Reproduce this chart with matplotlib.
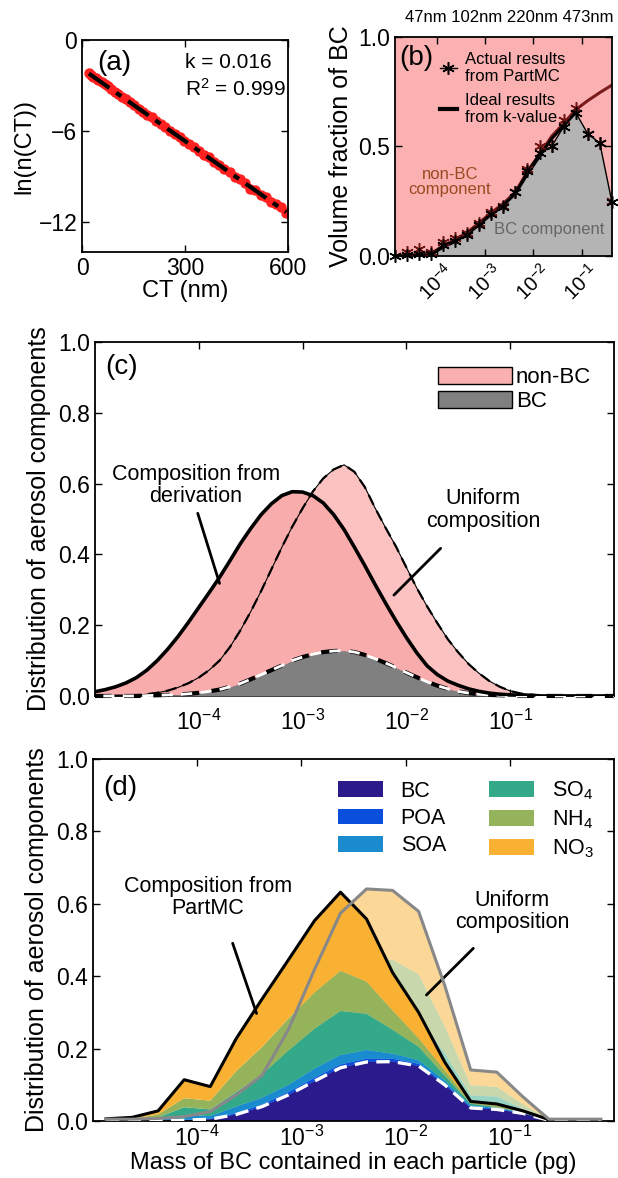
import numpy as np
import matplotlib
matplotlib.use('Agg')
import matplotlib.pyplot as plt
from matplotlib.patches import Patch
from matplotlib.lines import Line2D

plt.rcParams['font.family'] = ['Liberation Sans', 'DejaVu Sans']
plt.rcParams['mathtext.fontset'] = 'custom'
plt.rcParams['mathtext.rm'] = 'Liberation Sans'
plt.rcParams['mathtext.it'] = 'Liberation Sans:italic'
plt.rcParams['mathtext.bf'] = 'Liberation Sans:bold'

# ---------- (a) ln(n(CT)) vs CT ----------
ct = [20, 25, 32, 40, 48, 57, 66, 75, 84, 95, 105, 116, 128, 140, 152, 165, 178, 190,
      203, 216, 230, 243, 256, 270, 284, 298, 312, 326, 340, 355, 370, 385, 400, 415,
      430, 445, 460, 475, 490, 505, 520, 535, 550, 565, 580, 595]
ln_n = [-2.20, -2.28, -2.42, -2.52, -2.66, -2.80, -2.93, -3.05, -3.25, -3.40, -3.55, -3.75,
        -3.92, -4.12, -4.31, -4.55, -4.72, -4.95, -5.10, -5.35, -5.55, -5.75, -5.98, -6.22,
        -6.40, -6.66, -6.85, -7.08, -7.30, -7.56, -7.72, -8.05, -8.25, -8.50, -8.68, -9.05,
        -9.20, -9.45, -9.82, -9.90, -10.20, -10.35, -10.72, -10.85, -11.00, -11.40]

# ---------- (b) volume fraction of BC ----------
logm_b = [-4.875, -4.625, -4.375, -4.125, -3.875, -3.625, -3.375, -3.125, -2.875, -2.625,
          -2.375, -2.125, -1.875, -1.625, -1.375, -1.125, -0.875, -0.625, -0.375]
frac_partmc = [0.0, 0.004, 0.008, 0.008, 0.05, 0.07, 0.095, 0.14, 0.19, 0.225, 0.29, 0.39,
               0.47, 0.50, 0.59, 0.655, 0.558, 0.516, 0.248]
frac_partmc_red = [0.0, 0.018, 0.032, 0.02, 0.065, 0.08, 0.105, 0.15, 0.20, 0.228, 0.29, 0.395,
                   0.50, 0.50, 0.62, 0.675, 0.558, 0.516, 0.25]
frac_kvalue = [0.0, 0.003, 0.007, 0.012, 0.045, 0.074, 0.108, 0.152, 0.198, 0.240, 0.292, 0.385,
               0.463, 0.546, 0.605, 0.668, 0.709, 0.746, 0.780]
frac_ideal = [0.008, 0.040, 0.068, 0.100, 0.145, 0.190, 0.232, 0.285, 0.375, 0.455, 0.535, 0.595, 0.655]
sizes_top = '47nm 102nm 220nm 473nm'

# ---------- (c) derivation vs uniform ----------
logm_c = [-5.0, -4.9, -4.8, -4.7, -4.6, -4.5, -4.4, -4.3, -4.2, -4.1, -4.0, -3.9, -3.8, -3.7,
          -3.6, -3.5, -3.4, -3.3, -3.2, -3.1, -3.0, -2.9, -2.8, -2.7, -2.6, -2.5, -2.4, -2.3,
          -2.2, -2.1, -2.0, -1.9, -1.8, -1.7, -1.6, -1.5, -1.4, -1.3, -1.2, -1.1, -1.0, -0.9,
          -0.8, -0.7, -0.6, -0.5, -0.4, -0.3, -0.2, -0.1, 0.0]
dist_deriv = [0.012, 0.018, 0.026, 0.037, 0.052, 0.073, 0.100, 0.132, 0.168, 0.208, 0.250,
              0.292, 0.335, 0.382, 0.430, 0.473, 0.512, 0.543, 0.566, 0.577, 0.576, 0.566,
              0.545, 0.512, 0.470, 0.420, 0.368, 0.314, 0.262, 0.212, 0.165, 0.122, 0.085,
              0.060, 0.042, 0.030, 0.020, 0.013, 0.008, 0.005, 0.003, 0.002, 0.001, 0, 0, 0,
              0, 0, 0, 0, 0]
dist_uniform = [0.0, 0.0, 0.001, 0.001, 0.002, 0.005, 0.009, 0.015, 0.024, 0.036, 0.052, 0.073,
                0.100, 0.138, 0.185, 0.238, 0.296, 0.358, 0.420, 0.478, 0.530, 0.578, 0.615,
                0.640, 0.653, 0.633, 0.590, 0.530, 0.475, 0.422, 0.363, 0.305, 0.253, 0.205,
                0.160, 0.123, 0.090, 0.064, 0.042, 0.026, 0.014, 0.007, 0.004, 0.002, 0.001,
                0, 0, 0, 0, 0, 0]
dist_bc = [0.0, 0.0, 0.0, 0.0, 0.0, 0.001, 0.002, 0.003, 0.004, 0.006, 0.009, 0.013, 0.018,
           0.026, 0.035, 0.047, 0.060, 0.073, 0.086, 0.100, 0.110, 0.118, 0.124, 0.127, 0.128,
           0.124, 0.116, 0.105, 0.093, 0.080, 0.066, 0.053, 0.040, 0.029, 0.020, 0.013, 0.008,
           0.005, 0.003, 0.002, 0.001, 0, 0, 0, 0, 0, 0, 0, 0, 0, 0]

# ---------- (d) PartMC components ----------
logm_d = [-4.875, -4.625, -4.375, -4.125, -3.875, -3.625, -3.375, -3.125, -2.875, -2.625,
          -2.375, -2.125, -1.875, -1.625, -1.375, -1.125, -0.875, -0.625, -0.375, -0.125]
species = ['BC', 'POA', 'SOA', 'SO$_4$', 'NH$_4$', 'NO$_3$']
colors = ['#2a1a8c', '#0a4fdc', '#1a8bcf', '#33a98a', '#94b35a', '#f8b133']
bc = [0, 0, 0, 0.002, 0.005, 0.018, 0.040, 0.072, 0.110, 0.147, 0.163, 0.164, 0.152, 0.100,
      0.036, 0.032, 0.021, 0.002, 0, 0]
poa = [0, 0, 0, 0.001, 0.001, 0.004, 0.006, 0.008, 0.009, 0.009, 0.009, 0.008, 0.006, 0.004,
       0.002, 0.002, 0.001, 0, 0, 0]
soa = [0, 0.001, 0.004, 0.013, 0.008, 0.018, 0.019, 0.020, 0.026, 0.026, 0.024, 0.014, 0.010,
       0.008, 0.005, 0.002, 0.001, 0, 0, 0]
so4 = [0.002, 0.003, 0.006, 0.022, 0.018, 0.040, 0.065, 0.095, 0.110, 0.122, 0.100, 0.066,
       0.037, 0.013, 0.005, 0.002, 0.001, 0.001, 0, 0]
nh4 = [0.002, 0.002, 0.008, 0.025, 0.024, 0.058, 0.075, 0.088, 0.100, 0.111, 0.089, 0.053,
       0.023, 0.015, 0.002, 0.004, 0.002, 0.0, 0, 0]
no3 = [0.002, 0.004, 0.010, 0.051, 0.039, 0.090, 0.133, 0.162, 0.198, 0.217, 0.173, 0.105,
       0.072, 0.023, 0.004, 0.005, 0.002, 0.001, 0, 0]
uniform_total = [0.005, 0.005, 0.007, 0.012, 0.026, 0.072, 0.127, 0.252, 0.418, 0.574, 0.641,
                 0.637, 0.579, 0.375, 0.141, 0.135, 0.067, 0.005, 0.005, 0.005]
uniform_share = [0.27, 0.02, 0.05, 0.16, 0.20, 0.30]

fs_tick = 16.5


def style_axes(ax):
    ax.tick_params(direction='in', top=True, right=True, length=5, width=1,
                   labelsize=fs_tick, which='major')
    ax.tick_params(which='minor', length=0)
    for s in ax.spines.values():
        s.set_linewidth(1.3)


def pointer(ax, start, end):
    ax.annotate('', xy=end, xytext=start,
                arrowprops=dict(arrowstyle='-', color='black', lw=2, shrinkA=0, shrinkB=0))


fig = plt.figure(figsize=(6.18, 11.78), dpi=100)

# ---- (a)
ax_a = fig.add_axes([0.1327, 0.786, 0.3333, 0.180])
ax_a.plot(ct, ln_n, 'o', color='#ff2020', ms=6.5, zorder=2)
k, b = np.polyfit(ct, ln_n, 1)
xfit = np.array([min(ct), max(ct)])
ax_a.plot(xfit, k * xfit + b, color='black', lw=3, ls=(0, (6, 2, 1.5, 2)), zorder=3)
ax_a.set_xlim(0, 600)
ax_a.set_ylim(-14, 0)
ax_a.set_xticks([0, 300, 600])
ax_a.set_yticks([0, -6, -12])
ax_a.set_xlabel('CT (nm)', fontsize=17, labelpad=0)
ax_a.set_ylabel('ln(n(CT))', fontsize=17, labelpad=2)
ax_a.text(44, -1.5, '(a)', fontsize=20, va='center')
ax_a.text(300, -1.5, 'k = 0.016', fontsize=15, va='center')
ax_a.text(300, -3.2, 'R$^2$ = 0.999', fontsize=15, va='center')
style_axes(ax_a)

# ---- (b)
ax_b = fig.add_axes([0.639, 0.7827, 0.351, 0.1859])
ax_b.set_facecolor('#fbb1b1')
xb = 10 ** np.array(logm_b)
ax_b.fill_between(xb, 0, frac_partmc, color='#b4b4b4', lw=0, zorder=1)
ax_b.plot(xb, frac_kvalue, color='#7b1c1c', lw=2.2, zorder=2)
ax_b.plot(xb[3:16], frac_ideal, color='black', lw=2.2, zorder=3)
ax_b.plot(xb, frac_partmc_red, ls='none', marker=(6, 2, 0), ms=9, mew=1.1,
          color='#6e1414', zorder=4)
ax_b.plot(xb, frac_partmc, color='black', lw=1, marker=(6, 2, 0), ms=9, mew=1.1, zorder=5,
          clip_on=False)
ax_b.set_xscale('log')
ax_b.set_xlim(xb[0], xb[-1])
ax_b.set_ylim(0, 1)
ax_b.set_yticks([0, 0.5, 1.0])
ax_b.set_yticklabels(['0.0', '0.5', '1.0'])
ax_b.set_xticks([1e-4, 1e-3, 1e-2, 1e-1])
ax_b.set_xticklabels(['$10^{-4}$', '$10^{-3}$', '$10^{-2}$', '$10^{-1}$'],
                     rotation=45, ha='center')
ax_b.set_ylabel('Volume fraction of BC', fontsize=18, labelpad=4)
style_axes(ax_b)
ax_b.tick_params(axis='x', labelsize=14.5, pad=3)
ax_b.text(0.02, 0.904, '(b)', transform=ax_b.transAxes, fontsize=20, va='center')
h1 = Line2D([], [], color='black', lw=1, marker=(6, 2, 0), ms=9, mew=1.1)
h2 = Line2D([], [], color='black', lw=3)
ax_b.legend([h1, h2], ['Actual results\nfrom PartMC', 'Ideal results\nfrom k-value'],
            loc='upper left', bbox_to_anchor=(0.17, 0.97), frameon=False, fontsize=12,
            handlelength=1.0, handletextpad=0.5, labelspacing=0.5, borderpad=0)
ax_b.text(0.253, 0.338, 'non-BC\ncomponent', transform=ax_b.transAxes, fontsize=12,
          color='#9a4a22', ha='center', va='center', linespacing=1.05)
ax_b.text(0.71, 0.119, 'BC component', transform=ax_b.transAxes, fontsize=12,
          color='#666666', ha='center', va='center')
fig.text(509 / 618, 1 - 17 / 1178, sizes_top, fontsize=12, ha='center', va='center')

# ---- (c)
ax_c = fig.add_axes([0.1537, 0.4092, 0.8398, 0.3005])
xc = 10 ** np.array(logm_c)
ax_c.fill_between(xc, 0, dist_uniform, color='#fcc2c2', lw=0, zorder=1)
ax_c.fill_between(xc, 0, dist_deriv, color='#f9acac', lw=0, zorder=2)
ax_c.fill_between(xc, 0, dist_bc, color='#808080', lw=0, zorder=3)
ax_c.plot(xc, dist_uniform, color='black', lw=0.8, zorder=4)
ax_c.plot(xc, dist_uniform, color='black', lw=1.6, ls=(0, (5, 3)), zorder=4)
ax_c.plot(xc, dist_bc, color='black', lw=3, ls=(0, (4, 3)), zorder=5, clip_on=False)
ax_c.plot(xc, dist_bc, color='white', lw=2, ls=(4, (4, 3)), zorder=6, clip_on=False)
ax_c.plot(xc, dist_deriv, color='black', lw=2.6, zorder=7)
ax_c.set_xscale('log')
ax_c.set_xlim(1e-5, 1)
ax_c.set_ylim(0, 1)
ax_c.set_xticks([1e-4, 1e-3, 1e-2, 1e-1])
ax_c.set_yticks([0, 0.2, 0.4, 0.6, 0.8, 1.0])
ax_c.set_yticklabels(['0.0', '0.2', '0.4', '0.6', '0.8', '1.0'])
ax_c.set_ylabel('Distribution of aerosol components', fontsize=18, labelpad=5)
style_axes(ax_c)
ax_c.tick_params(axis='x', pad=10)
ax_c.text(0.02, 0.93, '(c)', transform=ax_c.transAxes, fontsize=20, va='center')
ax_c.legend([Patch(facecolor='#fbb0b0', edgecolor='black', lw=1),
             Patch(facecolor='#808080', edgecolor='black', lw=1)],
            ['non-BC', 'BC'], loc='upper left', bbox_to_anchor=(0.64, 0.962),
            frameon=False, fontsize=16, handlelength=3.3, handleheight=0.8,
            handletextpad=0.2, labelspacing=0.15, borderpad=0)
ax_c.text(10 ** -4.03, 0.595, 'Composition from\nderivation', fontsize=15.5,
          ha='center', va='center', linespacing=1.1)
pointer(ax_c, (10 ** -4.01, 0.516), (10 ** -3.80, 0.318))
ax_c.text(10 ** -1.26, 0.525, 'Uniform\ncomposition', fontsize=15.5,
          ha='center', va='center', linespacing=1.1)
pointer(ax_c, (10 ** -1.67, 0.417), (10 ** -2.12, 0.285))

# ---- (d)
ax_d = fig.add_axes([0.1505, 0.0484, 0.843, 0.3073])
xd = 10 ** np.array(logm_d)
layers = np.array([bc, poa, soa, so4, nh4, no3])
uniform_layers = np.outer(uniform_share, uniform_total)
ax_d.stackplot(xd, uniform_layers, colors=colors, alpha=0.5, lw=0, zorder=1)
ax_d.stackplot(xd, layers, colors=colors, lw=0, zorder=2)
total = layers.sum(axis=0)
ax_d.plot(xd, bc, color='white', lw=2.4, ls=(0, (4, 2.5)), zorder=3)
ax_d.plot(xd[:18], total[:18], color='black', lw=2.2, zorder=4)
ax_d.plot(xd, uniform_total, color='#888888', lw=2.2, zorder=5)
ax_d.set_xscale('log')
ax_d.set_xlim(1e-5, 1)
ax_d.set_ylim(0, 1)
ax_d.set_xticks([1e-4, 1e-3, 1e-2, 1e-1])
ax_d.set_yticks([0, 0.2, 0.4, 0.6, 0.8, 1.0])
ax_d.set_yticklabels(['0.0', '0.2', '0.4', '0.6', '0.8', '1.0'])
ax_d.set_ylabel('Distribution of aerosol components', fontsize=18, labelpad=5)
ax_d.set_xlabel('Mass of BC contained in each particle (pg)', fontsize=17, labelpad=1)
style_axes(ax_d)
ax_d.text(0.02, 0.92, '(d)', transform=ax_d.transAxes, fontsize=20, va='center')
ax_d.legend([Patch(facecolor=c) for c in colors], species, ncol=2, loc='upper left',
            bbox_to_anchor=(0.45, 0.973), frameon=False, fontsize=15.5,
            handlelength=2.1, handleheight=0.75, handletextpad=0.8, labelspacing=0.3,
            columnspacing=2.0, borderpad=0)
ax_d.text(10 ** -3.90, 0.617, 'Composition from\nPartMC', fontsize=15.5,
          ha='center', va='center', linespacing=1.1)
pointer(ax_d, (10 ** -3.66, 0.491), (10 ** -3.43, 0.297))
ax_d.text(10 ** -0.98, 0.579, 'Uniform\ncomposition', fontsize=15.5,
          ha='center', va='center', linespacing=1.1)
pointer(ax_d, (10 ** -1.35, 0.477), (10 ** -1.80, 0.348))

fig.savefig('out.png', dpi=100)
